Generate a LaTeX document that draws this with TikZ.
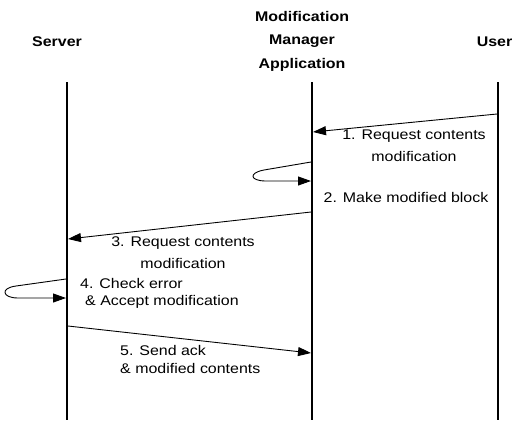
\documentclass[tikz,border=0pt]{standalone}
\usepackage{fontspec}
\setmainfont{Liberation Sans}
\newfontfamily\labfont[FakeStretch=1.14]{Liberation Sans}
\usetikzlibrary{arrows.meta}
\begin{document}
\begin{tikzpicture}[x=1pt,y=-1pt,
  lifeline/.style={line width=2.8pt},
  msg/.style={line width=0.9pt,-{Triangle[length=13pt,width=9pt]}},
  head/.style={font=\labfont\fontsize{14}{23.5}\selectfont\bfseries,inner sep=0pt,align=center},
  lab/.style={font=\labfont\fontsize{14}{22}\selectfont,inner sep=0pt,align=center}]
\useasboundingbox (0,0) rectangle (513,424);
% headers
\node[head] (hs) at (57,42) {Server};
\node[head] (hm) at (302,41) {Modification\\Manager\\Application};
\node[head,anchor=east] (hu) at (512.5,42) {User};
% lifelines
\coordinate (s0) at (67,82); \coordinate (s1) at (67,420);
\coordinate (m0) at (312,82); \coordinate (m1) at (312,420);
\coordinate (u0) at (498,82); \coordinate (u1) at (498,420);
\draw[lifeline] (s0) -- (s1);
\draw[lifeline] (m0) -- (m1);
\draw[lifeline] (u0) -- (u1);
% message points
\coordinate (a1) at (497,114); \coordinate (b1) at (313,132);
\coordinate (a2) at (311,162); \coordinate (b2) at (311,181);
\coordinate (a3) at (311,212); \coordinate (b3) at (68,239);
\coordinate (a4) at (66,279); \coordinate (b4) at (66,298);
\coordinate (a5) at (68,326); \coordinate (b5) at (311,353);
% 1
\draw[msg] (a1) -- (b1);
\node[lab] (l1) at (414,146) {1. Request contents\\modification};
% 2
\draw[msg] (a2) -- (264,170) .. controls (248,173) and (250,181) .. (266,181) -- (b2);
\node[lab] (l2) at (406,197) {2. Make modified block};
% 3
\draw[msg] (a3) -- (b3);
\node[lab] (l3) at (183,253) {3. Request contents\\modification};
% 4
\draw[msg] (a4) -- (16,286) .. controls (0,288) and (2,298) .. (18,298) -- (b4);
\node[lab,anchor=west] (l4a) at (80,283) {4. Check error};
\node[lab,anchor=west] (l4b) at (85,302) {\& Accept modification};
% 5
\draw[msg] (a5) -- (b5);
\node[lab,anchor=west] (l5a) at (120,350) {5. Send ack};
\node[lab,anchor=west] (l5b) at (120,368) {\& modified contents};
\end{tikzpicture}
\end{document}
